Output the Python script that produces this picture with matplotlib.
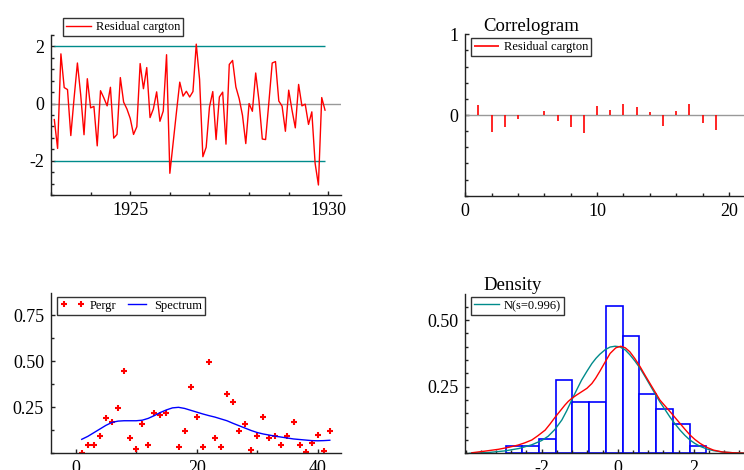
import matplotlib
matplotlib.use("Agg")
import matplotlib.pyplot as plt
from matplotlib.ticker import MultipleLocator, FixedLocator
import numpy as np

plt.rcParams['font.family'] = ['Liberation Serif', 'DejaVu Serif']
plt.rcParams['axes.unicode_minus'] = False

# residuals, monthly from 1923(2) to 1929(12)
start_year = 1923
start_month = 2
resid = [-0.56, -1.57, 1.74, 0.56, 0.49, -1.12, 0.2, 1.42, 0.3, -1.09,
         0.87, -0.15, -0.1, -1.48, 0.45, 0.2, -0.08, 0.57, -1.21, -1.08,
         0.91, 0.05, -0.19, -0.52, -1.08, -0.81, 1.40, 0.52, 1.26, -0.49,
         -0.19, 0.41, -0.62, -0.26, 1.71, -2.44, -1.37, -0.3, 0.75, 0.26,
         0.43, 0.23, 0.42, 2.08, 0.85, -1.86, -1.53, -0.12, 0.42, -1.26,
         0.23, 0.40, -1.42, 1.37, 1.51, 0.58, 0.17, -0.41, -1.40, 0.0,
         -0.27, 1.07, 0.1, -1.24, -1.26, 0.05, 1.42, 1.47, 0.09, -0.09,
         -0.97, 0.47, -0.23, -0.85, 0.67, -0.08, -0.02, -0.73, -0.29, -2.09,
         -2.85, 0.21, -0.23]

# correlogram
lags = list(range(1, 21))
acf = [0.124, -0.207, -0.145, -0.05, 0.004, 0.054, -0.074, -0.149, -0.219, 0.116,
       0.062, 0.132, 0.099, 0.033, -0.136, 0.045, 0.14, -0.093, -0.18, 0.0]

# periodogram and smoothed spectrum
freq = list(range(1, 43))
pergr = [0.0, 0.045, 0.045, 0.093, 0.19, 0.17, 0.248, 0.45, 0.083, 0.024,
         0.16, 0.044, 0.219, 0.206, 0.219, 0.77, 0.032, 0.121, 0.361, 0.199,
         0.032, 0.498, 0.083, 0.032, 0.324, 0.28, 0.121, 0.159, 0.016, 0.093,
         0.199, 0.083, 0.093, 0.044, 0.093, 0.17, 0.044, 0.006, 0.054, 0.102,
         0.015, 0.121]
spectrum = [0.076, 0.092, 0.112, 0.132, 0.152, 0.168, 0.175, 0.177, 0.177, 0.177,
            0.180, 0.19, 0.205, 0.222, 0.236, 0.247, 0.25, 0.244, 0.234, 0.224,
            0.214, 0.205, 0.197, 0.187, 0.177, 0.163, 0.150, 0.137, 0.124, 0.113,
            0.105, 0.099, 0.093, 0.088, 0.083, 0.078, 0.075, 0.072, 0.069, 0.068,
            0.069, 0.071]

# density histogram
bin_left = [-2.95, -2.51, -2.07, -1.63, -1.19, -0.75, -0.31, 0.13, 0.57, 1.01, 1.45, 1.89]
bin_width = 0.44
bin_height = [0.028, 0.028, 0.055, 0.276, 0.193, 0.193, 0.552, 0.442, 0.221, 0.166, 0.110, 0.028]

# fitted normal curve
norm_x = [-3.9, -3.4, -2.97, -2.6, -2.26, -2.0, -1.83, -1.65, -1.47, -1.34, -1.21,
          -1.08, -0.95, -0.81, -0.68, -0.57, -0.47, -0.33, -0.2, -0.07, 0.05, 0.2,
          0.32, 0.45, 0.59, 0.72, 0.85, 0.98, 1.11, 1.25, 1.38, 1.51, 1.64, 1.77,
          1.9, 2.03, 2.17, 2.35, 2.52, 2.75, 3.04, 3.5]
norm_y = [0.0, 0.003, 0.009, 0.018, 0.032, 0.048, 0.064, 0.09, 0.125, 0.16, 0.2,
          0.238, 0.275, 0.308, 0.337, 0.357, 0.372, 0.389, 0.399, 0.402, 0.4, 0.388,
          0.37, 0.347, 0.319, 0.288, 0.256, 0.224, 0.193, 0.163, 0.135, 0.11, 0.087,
          0.067, 0.05, 0.037, 0.026, 0.016, 0.01, 0.005, 0.002, 0.0]

# kernel density
kde_x = [-3.84, -3.5, -3.14, -2.85, -2.62, -2.45, -2.26, -2.1, -1.91, -1.78, -1.65,
         -1.52, -1.39, -1.3, -1.21, -1.08, -0.95, -0.81, -0.68, -0.58, -0.47, -0.33,
         -0.2, -0.05, 0.08, 0.2, 0.32, 0.45, 0.59, 0.72, 0.85, 0.98, 1.11, 1.25, 1.38,
         1.51, 1.64, 1.77, 1.9, 2.03, 2.17, 2.35, 2.52, 2.75, 3.04, 3.5]
kde_y = [0.002, 0.008, 0.015, 0.023, 0.031, 0.039, 0.05, 0.066, 0.087, 0.11, 0.135,
         0.158, 0.181, 0.195, 0.206, 0.219, 0.231, 0.244, 0.262, 0.282, 0.308, 0.343,
         0.375, 0.396, 0.402, 0.396, 0.381, 0.356, 0.325, 0.293, 0.262, 0.231, 0.2,
         0.177, 0.156, 0.134, 0.112, 0.09, 0.069, 0.052, 0.037, 0.022, 0.012, 0.005,
         0.002, 0.0]

teal = '#008b8b'
blue = '#0000ff'
W, H = 744, 470

fig = plt.figure(figsize=(W / 100, H / 100), dpi=100)


def px_axes(left, top, right, bottom):
    return fig.add_axes([left / W, 1 - bottom / H, (right - left) / W, (bottom - top) / H])


def style(ax):
    for s in ['top', 'right']:
        ax.spines[s].set_visible(False)
    for s in ['left', 'bottom']:
        ax.spines[s].set_color('#222222')
        ax.spines[s].set_linewidth(1.0)
    ax.tick_params(which='both', direction='in', colors='#222222', labelcolor='black',
                   labelsize=13, pad=5)
    ax.tick_params(which='major', length=3.2, width=1.0)
    ax.tick_params(which='minor', length=2.2, width=1.0)
    ax.patch.set_alpha(0)


def legend(ax, x, y, **kw):
    lg = ax.legend(loc='upper left', bbox_to_anchor=(x / W, 1 - y / H),
                   bbox_transform=fig.transFigure, borderaxespad=0, fontsize=9,
                   fancybox=False, framealpha=1, edgecolor='#333333',
                   borderpad=0.25, handlelength=2.0, handletextpad=0.35, **kw)
    lg.get_frame().set_linewidth(1.0)
    return lg


# --- residuals
ax1 = px_axes(51, 35, 341, 195)
t = start_year + (start_month - 1 + np.arange(len(resid))) / 12
ax1.axhline(0, color='#999999', lw=1.0)
ax1.hlines([2, -2], t[0], t[-1], color=teal, lw=1.0)
ax1.plot(t, resid, color='red', lw=1.0, label='Residual cargton')
ax1.set_xlim(1923.0, 1930.32)
ax1.set_ylim(-3.2, 2.4)
ax1.xaxis.set_major_locator(FixedLocator([1925, 1930]))
ax1.xaxis.set_minor_locator(MultipleLocator(1))
ax1.yaxis.set_major_locator(FixedLocator([-2, 0, 2]))
ax1.yaxis.set_minor_locator(MultipleLocator(0.4))
style(ax1)
legend(ax1, 63, 18)

# --- correlogram
ax2 = px_axes(465.3, 34.3, 755.3, 195.7)
ax2.axhline(0, color='#999999', lw=1.0)
ax2.vlines(lags, 0, acf, color='red', lw=1.2, label='Residual cargton')
ax2.set_xlim(0, 22)
ax2.set_ylim(-1, 1)
ax2.xaxis.set_major_locator(MultipleLocator(10))
ax2.xaxis.set_minor_locator(MultipleLocator(2))
ax2.yaxis.set_major_locator(FixedLocator([0, 1]))
ax2.yaxis.set_minor_locator(MultipleLocator(0.2))
style(ax2)
legend(ax2, 471, 38)
fig.text(483 / W, 1 - 31 / H, 'Correlogram', fontsize=13.5, va='baseline', ha='left')

# --- spectrum
ax3 = px_axes(51, 293.3, 341, 453.3)
ax3.plot(freq, pergr, linestyle='none', marker='+', ms=5, mew=1.5, color='red', label='Pergr')
ax3.plot(freq, spectrum, color=blue, lw=1.0, label='Spectrum')
ax3.set_xlim(-4.08, 43.85)
ax3.set_ylim(0, 0.87)
ax3.xaxis.set_major_locator(FixedLocator([0, 20, 40]))
ax3.xaxis.set_minor_locator(FixedLocator([10, 30]))
ax3.yaxis.set_major_locator(FixedLocator([0.25, 0.5, 0.75]))
ax3.yaxis.set_minor_locator(MultipleLocator(0.125))
ax3.yaxis.set_major_formatter(lambda v, p: f'{v:.2f}')
style(ax3)
legend(ax3, 56.7, 296.7, ncol=2, numpoints=2, columnspacing=0.7)

# --- density
ax4 = px_axes(465.3, 294.3, 755.3, 453.3)
ax4.bar(bin_left, bin_height, width=bin_width, align='edge', facecolor='white',
        edgecolor=blue, lw=1.2)
ax4.plot(norm_x, norm_y, color=teal, lw=1.0, label='N(s=0.996)')
ax4.plot(kde_x, kde_y, color='red', lw=1.0)
ax4.set_xlim(-4.01, 3.62)
ax4.set_ylim(0, 0.597)
ax4.xaxis.set_major_locator(FixedLocator([-2, 0, 2]))
ax4.xaxis.set_minor_locator(MultipleLocator(0.4))
ax4.yaxis.set_major_locator(FixedLocator([0.25, 0.5]))
ax4.yaxis.set_minor_locator(MultipleLocator(0.05))
ax4.yaxis.set_major_formatter(lambda v, p: f'{v:.2f}')
style(ax4)
legend(ax4, 471, 296.7)
fig.text(483 / W, 1 - 290.5 / H, 'Density', fontsize=13.5, va='baseline', ha='left')

fig.savefig('out.png', dpi=100)
